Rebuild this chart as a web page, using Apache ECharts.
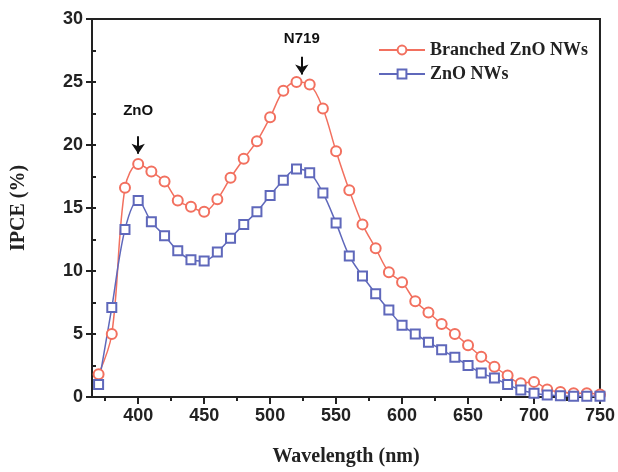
<!DOCTYPE html>
<html><head><meta charset="utf-8">
<script src="https://cdn.jsdelivr.net/npm/echarts@6/dist/echarts.min.js"></script>
<style>html,body{margin:0;padding:0;background:#fff}#c{width:618px;height:472px}</style>
</head><body><div id="c"></div>
<script>
const wavelengths = [370,380,390,400,410,420,430,440,450,460,470,480,490,500,510,520,530,540,550,560,570,580,590,600,610,620,630,640,650,660,670,680,690,700,710,720,730,740,750];
const branched = [1.8,5.0,16.6,18.5,17.9,17.1,15.6,15.1,14.7,15.7,17.4,18.9,20.3,22.2,24.3,25.0,24.8,22.9,19.5,16.4,13.7,11.8,9.9,9.1,7.6,6.7,5.8,5.0,4.1,3.2,2.4,1.7,1.1,1.2,0.6,0.4,0.3,0.3,0.2];
const nws = [1.0,7.1,13.3,15.6,13.9,12.8,11.6,10.9,10.8,11.5,12.6,13.7,14.7,16.0,17.2,18.1,17.8,16.2,13.8,11.2,9.6,8.2,6.9,5.7,5.0,4.35,3.75,3.15,2.5,1.9,1.5,1.0,0.55,0.3,0.15,0.1,0.05,0.05,0.05];
const xMajorTicks = [400,450,500,550,600,650,700,750];
const xMinorTicks = [375,425,475,525,575,625,675,725];
const seriesNames = ['Branched ZnO NWs','ZnO NWs'];
const annotations = [{name:'ZnO', x:400, y:22.7, arrowFrom:20.7, arrowTo:19.3},{name:'N719', x:524, y:28.4, arrowFrom:27.0, arrowTo:25.6}];

const RED = '#f2705f', BLUE = '#5f68bb';
const serif = '"Liberation Serif","Times New Roman",serif';
const sans = '"Liberation Sans",Arial,sans-serif';
const chart = echarts.init(document.getElementById('c'));
const xMin = 365, xMax = 750;
chart.setOption({
  animation:false,
  grid:{left:92,right:16,top:19,bottom:69,show:true,borderColor:'#222',borderWidth:2,backgroundColor:'transparent'},
  legend:{orient:'vertical',left:373,top:36,itemWidth:46,itemHeight:11,itemGap:6,
    textStyle:{fontFamily:serif,fontWeight:'bold',fontSize:18,color:'#222'},
    data:seriesNames},
  xAxis:[{type:'value',min:xMin,max:xMax,
    name:'Wavelength (nm)',nameLocation:'middle',nameGap:50,
    nameTextStyle:{fontFamily:serif,fontWeight:'bold',fontSize:20,color:'#222'},
    axisLine:{lineStyle:{color:'#222',width:2}},
    axisTick:{customValues:xMajorTicks,length:7,lineStyle:{color:'#222',width:2}},
    axisLabel:{customValues:xMajorTicks,fontFamily:sans,fontWeight:'bold',fontSize:18,color:'#222',margin:10},
    splitLine:{show:false}},
   {type:'value',min:xMin,max:xMax,position:'bottom',
    axisLine:{show:false},
    axisTick:{customValues:xMinorTicks,length:4,lineStyle:{color:'#222',width:2}},
    axisLabel:{show:false},splitLine:{show:false}}],
  yAxis:[{type:'value',min:0,max:30,interval:5,
    name:'IPCE (%)',nameLocation:'middle',nameGap:63,nameRotate:90,
    nameTextStyle:{fontFamily:serif,fontWeight:'bold',fontSize:20,color:'#222'},
    axisLine:{show:true,lineStyle:{color:'#222',width:2}},
    axisTick:{show:true,length:6,lineStyle:{color:'#222',width:2}},
    axisLabel:{fontFamily:sans,fontWeight:'bold',fontSize:18,color:'#222',margin:9},
    splitLine:{show:false}},
   {type:'value',min:0,max:30,interval:2.5,position:'left',
    axisLine:{show:false},
    axisTick:{show:true,inside:true,length:4,lineStyle:{color:'#222',width:2}},
    axisLabel:{show:false},splitLine:{show:false}}],
  series:[
    {name:seriesNames[0],type:'line',smooth:0.35,data:wavelengths.map((w,i)=>[w,branched[i]]),
     symbol:'emptyCircle',symbolSize:10,lineStyle:{color:RED,width:1.5},
     itemStyle:{color:RED,borderColor:RED,borderWidth:1.5},
     markPoint:{symbol:'rect',symbolSize:1,itemStyle:{color:'rgba(0,0,0,0)'},
       label:{show:true,position:'inside',formatter:'{b}',fontFamily:sans,fontWeight:'bold',fontSize:15,color:'#111'},
       data:annotations.map(a=>({name:a.name,coord:[a.x,a.y]}))},
     markLine:{silent:true,symbol:['none','arrow'],symbolSize:[10,10],label:{show:false},
       lineStyle:{color:'#111',width:2,type:'solid'},
       data:annotations.map(a=>[{coord:[a.x,a.arrowFrom]},{coord:[a.x,a.arrowTo]}])}},
    {name:seriesNames[1],type:'line',smooth:0.35,data:wavelengths.map((w,i)=>[w,nws[i]]),
     symbol:'emptyRect',symbolSize:9,lineStyle:{color:BLUE,width:1.5},
     itemStyle:{color:BLUE,borderColor:BLUE,borderWidth:1.5}}
  ]
});
</script></body></html>
